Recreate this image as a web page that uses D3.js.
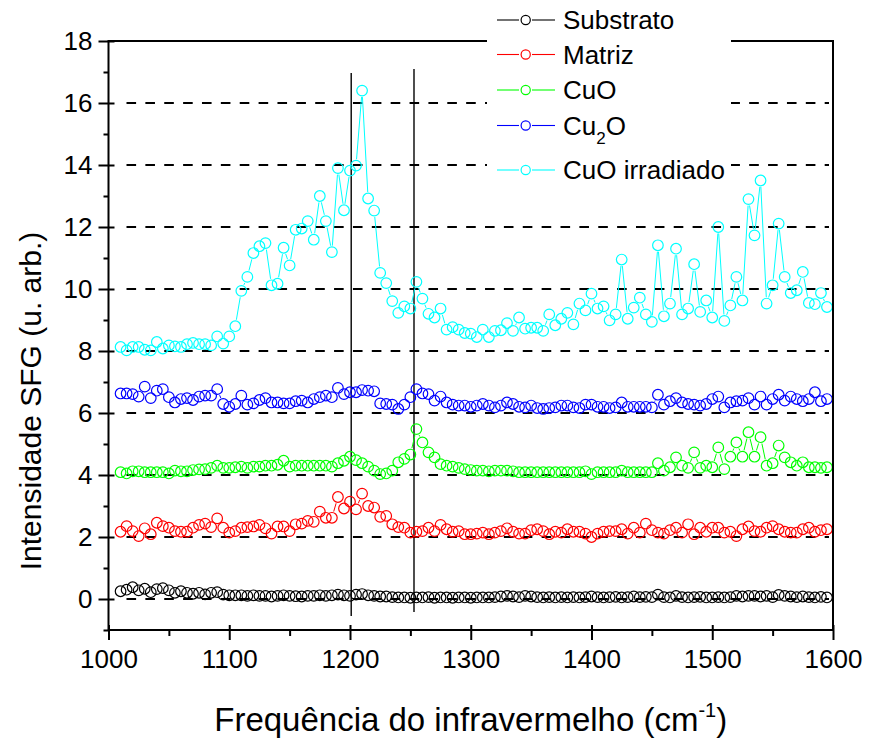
<!DOCTYPE html>
<html>
<head>
<meta charset="utf-8">
<script src="https://cdn.jsdelivr.net/npm/d3@7"></script>
<style>
  html, body { margin: 0; padding: 0; background: #fff; }
  svg text { font-family: "Liberation Sans", Arial, sans-serif; fill: #000; }
</style>
</head>
<body>
<svg id="chart" width="869" height="740"></svg>
<script>
// ---------------- DATA ----------------
const freq = [
  1010,1015,1020,1025,1030,1035,1040,1045,1050,1055,
  1060,1065,1070,1075,1080,1085,1090,1095,1100,1105,
  1110,1115,1120,1125,1130,1135,1140,1145,1150,1155,
  1160,1165,1170,1175,1180,1185,1190,1195,1200,1205,
  1210,1215,1220,1225,1230,1235,1240,1245,1250,1255,
  1260,1265,1270,1275,1280,1285,1290,1295,1300,1305,
  1310,1315,1320,1325,1330,1335,1340,1345,1350,1355,
  1360,1365,1370,1375,1380,1385,1390,1395,1400,1405,
  1410,1415,1420,1425,1430,1435,1440,1445,1450,1455,
  1460,1465,1470,1475,1480,1485,1490,1495,1500,1505,
  1510,1515,1520,1525,1530,1535,1540,1545,1550,1555,
  1560,1565,1570,1575,1580,1585,1590,1595
];

const substrato = [
  0.25,0.30,0.38,0.28,0.33,0.22,0.32,0.35,0.28,0.20,
  0.25,0.20,0.17,0.20,0.15,0.20,0.22,0.14,0.12,0.12,
  0.12,0.10,0.12,0.10,0.10,0.08,0.10,0.12,0.10,0.09,
  0.08,0.10,0.10,0.12,0.10,0.12,0.14,0.12,0.10,0.14,
  0.16,0.12,0.10,0.08,0.08,0.06,0.05,0.05,0.04,0.05,
  0.05,0.06,0.04,0.05,0.05,0.04,0.05,0.05,0.04,0.05,
  0.05,0.05,0.06,0.08,0.10,0.08,0.06,0.10,0.08,0.06,
  0.05,0.06,0.05,0.06,0.05,0.06,0.05,0.06,0.08,0.06,
  0.05,0.06,0.07,0.05,0.06,0.08,0.06,0.07,0.06,0.14,
  0.06,0.05,0.10,0.06,0.05,0.06,0.07,0.05,0.05,0.06,
  0.05,0.06,0.10,0.08,0.10,0.10,0.08,0.10,0.06,0.13,
  0.10,0.08,0.06,0.08,0.06,0.05,0.07,0.05
];

const matriz = [
  2.17,2.35,2.19,2.03,2.28,2.09,2.46,2.35,2.30,2.19,
  2.17,2.17,2.30,2.39,2.43,2.32,2.60,2.30,2.14,2.19,
  2.30,2.32,2.34,2.39,2.28,2.11,2.34,2.34,2.19,2.41,
  2.43,2.52,2.49,2.82,2.62,2.62,3.29,2.92,3.14,2.89,
  3.40,3.00,2.95,2.65,2.68,2.41,2.32,2.30,2.14,2.17,
  2.19,2.30,2.19,2.39,2.25,2.17,2.19,2.09,2.09,2.11,
  2.14,2.09,2.14,2.19,2.28,2.17,2.11,2.11,2.22,2.25,
  2.19,2.09,2.17,2.14,2.25,2.17,2.17,2.11,2.00,2.11,
  2.17,2.19,2.19,2.25,2.11,2.30,2.14,2.43,2.22,2.14,
  2.11,2.22,2.30,2.14,2.41,2.09,2.30,2.17,2.30,2.30,
  2.14,2.17,2.03,2.25,2.34,2.19,2.17,2.30,2.35,2.25,
  2.17,2.14,2.14,2.25,2.30,2.17,2.22,2.25
];

const cuo = [
  4.09,4.05,4.12,4.12,4.09,4.09,4.09,4.09,4.05,4.14,
  4.12,4.12,4.16,4.18,4.19,4.23,4.30,4.23,4.23,4.25,
  4.27,4.23,4.27,4.27,4.30,4.30,4.33,4.46,4.27,4.30,
  4.30,4.30,4.30,4.30,4.30,4.27,4.38,4.46,4.59,4.48,
  4.38,4.27,4.14,4.03,4.05,4.14,4.41,4.52,4.66,5.48,
  5.05,4.73,4.57,4.35,4.30,4.27,4.23,4.19,4.16,4.14,
  4.14,4.12,4.14,4.14,4.14,4.12,4.09,4.09,4.09,4.09,
  4.09,4.09,4.09,4.09,4.09,4.09,4.09,4.12,4.03,4.09,
  4.09,4.09,4.09,4.14,4.09,4.09,4.09,4.09,4.09,4.38,
  4.14,4.25,4.57,4.30,4.23,4.73,4.23,4.30,4.25,4.89,
  4.19,4.59,5.05,4.59,5.38,4.59,5.22,4.30,4.38,4.95,
  4.57,4.41,4.30,4.41,4.25,4.25,4.23,4.25
];

const cu2o = [
  6.63,6.63,6.61,6.53,6.85,6.48,6.72,6.77,6.51,6.34,
  6.45,6.48,6.42,6.53,6.56,6.56,6.77,6.29,6.20,6.29,
  6.56,6.27,6.31,6.42,6.48,6.34,6.34,6.31,6.31,6.38,
  6.40,6.34,6.45,6.51,6.56,6.51,6.81,6.61,6.67,6.67,
  6.74,6.72,6.70,6.31,6.29,6.27,6.13,6.27,6.51,6.77,
  6.63,6.61,6.40,6.53,6.34,6.27,6.24,6.24,6.20,6.24,
  6.29,6.24,6.18,6.24,6.34,6.29,6.20,6.18,6.24,6.16,
  6.13,6.16,6.18,6.24,6.24,6.18,6.16,6.27,6.27,6.20,
  6.20,6.16,6.18,6.34,6.20,6.20,6.20,6.20,6.18,6.59,
  6.27,6.38,6.48,6.34,6.29,6.27,6.24,6.29,6.45,6.53,
  6.18,6.34,6.38,6.40,6.48,6.27,6.53,6.27,6.45,6.59,
  6.40,6.53,6.45,6.38,6.45,6.67,6.38,6.45
];

const cuoIrradiado = [
  8.13,8.02,8.13,8.13,8.04,8.02,8.29,8.08,8.18,8.15,
  8.13,8.22,8.26,8.22,8.22,8.18,8.47,8.24,8.47,8.80,
  9.94,10.39,11.16,11.38,11.48,10.12,10.17,11.33,10.76,11.91,
  11.95,12.19,11.59,13.00,12.19,11.19,13.90,12.54,13.82,13.98,
  16.40,12.92,12.53,10.52,10.19,9.61,9.23,9.44,9.37,10.23,
  9.69,9.20,9.08,9.37,8.69,8.77,8.69,8.58,8.56,8.45,
  8.69,8.45,8.65,8.67,8.90,8.65,9.08,8.72,8.75,8.75,
  8.65,9.18,8.83,9.04,9.23,8.86,9.53,9.31,9.85,9.37,
  9.44,8.99,9.18,10.95,9.04,9.40,9.72,9.18,8.94,11.41,
  9.12,9.53,11.30,9.18,9.37,10.80,9.26,9.63,9.08,12.00,
  8.97,9.47,10.39,9.63,12.90,11.73,13.50,9.53,10.12,12.11,
  10.39,9.87,9.96,10.55,9.55,9.51,9.87,9.42
];

const seriesNames = ["Substrato", "Matriz", "CuO", "Cu2O", "CuO irradiado"];
const seriesColors = ["#000000", "#ff0000", "#00ff00", "#0000ff", "#00ffff"];
const seriesValues = [substrato, matriz, cuo, cu2o, cuoIrradiado];

const xTicks = [1000, 1100, 1200, 1300, 1400, 1500, 1600];
const xMinorTicks = [1050, 1150, 1250, 1350, 1450, 1550];
const yTicks = [0, 2, 4, 6, 8, 10, 12, 14, 16, 18];
const yMinorTicks = [-1, 1, 3, 5, 7, 9, 11, 13, 15, 17];
const gridValues = [0, 2, 4, 6, 8, 10, 12, 14, 16];

// reference vertical lines: x, start and end value
const refLineX = [1201, 1253];
const refLineYStart = [-0.55, -0.42];
const refLineYEnd = [16.97, 17.1];

// ---------------- LAYOUT ----------------
const pL = 108.5, pR = 833, pT = 41, pB = 630;
const svg = d3.select("#chart");

const x = d3.scaleLinear().domain([1000, 1600]).range([pL, pR]);
const y = d3.scaleLinear().domain([-1, 18]).range([pB, pT]);

// dashed grid
svg.append("g").selectAll("line").data(gridValues).join("line")
  .attr("x1", pL + 18).attr("x2", pR - 4)
  .attr("y1", d => y(d)).attr("y2", d => y(d))
  .attr("stroke", "#000").attr("stroke-width", 2)
  .attr("stroke-dasharray", "9.6,9.27");

// reference vertical lines
svg.append("g").selectAll("line").data(refLineX).join("line")
  .attr("x1", d => x(d)).attr("x2", d => x(d))
  .attr("y1", (d, i) => y(refLineYStart[i]))
  .attr("y2", (d, i) => y(refLineYEnd[i]))
  .attr("stroke", "#000").attr("stroke-width", 1.4);

// series
const R = 5.3;
seriesValues.forEach((vals, si) => {
  const color = seriesColors[si];
  const pts = vals.map((v, i) => [x(freq[i]), y(v)]);
  const g = svg.append("g");
  const segs = [];
  for (let i = 0; i < pts.length - 1; i++) {
    const [x1, y1] = pts[i], [x2, y2] = pts[i + 1];
    const dx = x2 - x1, dy = y2 - y1, d = Math.hypot(dx, dy);
    const gap = R + 1.2;
    if (d > 2 * gap + 1) {
      const ux = dx / d, uy = dy / d;
      segs.push([x1 + ux * gap, y1 + uy * gap, x2 - ux * gap, y2 - uy * gap]);
    }
  }
  g.selectAll("line").data(segs).join("line")
    .attr("x1", d => d[0]).attr("y1", d => d[1])
    .attr("x2", d => d[2]).attr("y2", d => d[3])
    .attr("stroke", color).attr("stroke-width", 1);
  g.selectAll("circle").data(pts).join("circle")
    .attr("cx", d => d[0]).attr("cy", d => d[1]).attr("r", R)
    .attr("fill", "none").attr("stroke", color).attr("stroke-width", 1.2);
});

// frame
svg.append("rect").attr("x", pL).attr("y", pT)
  .attr("width", pR - pL).attr("height", pB - pT)
  .attr("fill", "none").attr("stroke", "#000").attr("stroke-width", 2);

// axes
const yAxis = d3.axisLeft(y).tickValues(yTicks).tickSize(10).tickPadding(6)
  .tickFormat(d3.format("d"));
const gy = svg.append("g").attr("transform", `translate(${pL},0)`).call(yAxis);
gy.select(".domain").remove();
gy.selectAll(".tick line").attr("stroke-width", 2).attr("x2", -10).attr("x1", 6);
gy.selectAll(".tick text").attr("font-size", 26).attr("font-family", '"Liberation Sans", Arial, sans-serif');

const yMinor = d3.axisLeft(y).tickValues(yMinorTicks).tickSize(5).tickFormat("");
const gym = svg.append("g").attr("transform", `translate(${pL},0)`).call(yMinor);
gym.select(".domain").remove();
gym.selectAll(".tick line").attr("stroke-width", 2);

const xAxis = d3.axisBottom(x).tickValues(xTicks).tickSize(10).tickPadding(10)
  .tickFormat(d3.format("d"));
const gx = svg.append("g").attr("transform", `translate(0,${pB})`).call(xAxis);
gx.select(".domain").remove();
gx.selectAll(".tick line").attr("stroke-width", 2).attr("y1", -5);
gx.selectAll(".tick text").attr("font-size", 26).attr("font-family", '"Liberation Sans", Arial, sans-serif');

const xMinor = d3.axisBottom(x).tickValues(xMinorTicks).tickSize(6).tickFormat("");
const gxm = svg.append("g").attr("transform", `translate(0,${pB})`).call(xMinor);
gxm.select(".domain").remove();
gxm.selectAll(".tick line").attr("stroke-width", 2);

// axis titles
const xt = svg.append("text").attr("x", (pL + pR) / 2).attr("y", 731)
  .attr("text-anchor", "middle").attr("font-size", 33);
xt.append("tspan").text("Frequência do infravermelho (cm");
xt.append("tspan").text("-1").attr("font-size", 20).attr("dy", -14);
xt.append("tspan").text(")").attr("dy", 14);

svg.append("text").attr("transform", "translate(41,401) rotate(-90)")
  .attr("text-anchor", "middle").attr("font-size", 30)
  .text("Intensidade SFG (u. arb.)");

// legend
const legRowY = [20, 54.5, 90, 125.5, 170];
const lg = svg.append("g");
lg.append("rect").attr("x", 487).attr("y", 0).attr("width", 244).attr("height", 190).attr("fill", "#fff");
seriesNames.forEach((name, i) => {
  const cy = legRowY[i];
  const c = seriesColors[i];
  lg.append("line").attr("x1", 497).attr("x2", 519).attr("y1", cy).attr("y2", cy)
    .attr("stroke", c).attr("stroke-width", 1.1);
  lg.append("line").attr("x1", 532).attr("x2", 555).attr("y1", cy).attr("y2", cy)
    .attr("stroke", c).attr("stroke-width", 1.1);
  lg.append("circle").attr("cx", 525.7).attr("cy", cy).attr("r", 4.6)
    .attr("fill", "none").attr("stroke", c).attr("stroke-width", 1.2);
  const t = lg.append("text").attr("x", 563).attr("y", cy + 9.3).attr("font-size", 26);
  if (name === "Cu2O") {
    t.append("tspan").text("Cu");
    t.append("tspan").text("2").attr("font-size", 17).attr("dy", 9);
    t.append("tspan").text("O").attr("dy", -9);
  } else {
    t.text(name);
  }
});
</script>
</body>
</html>
